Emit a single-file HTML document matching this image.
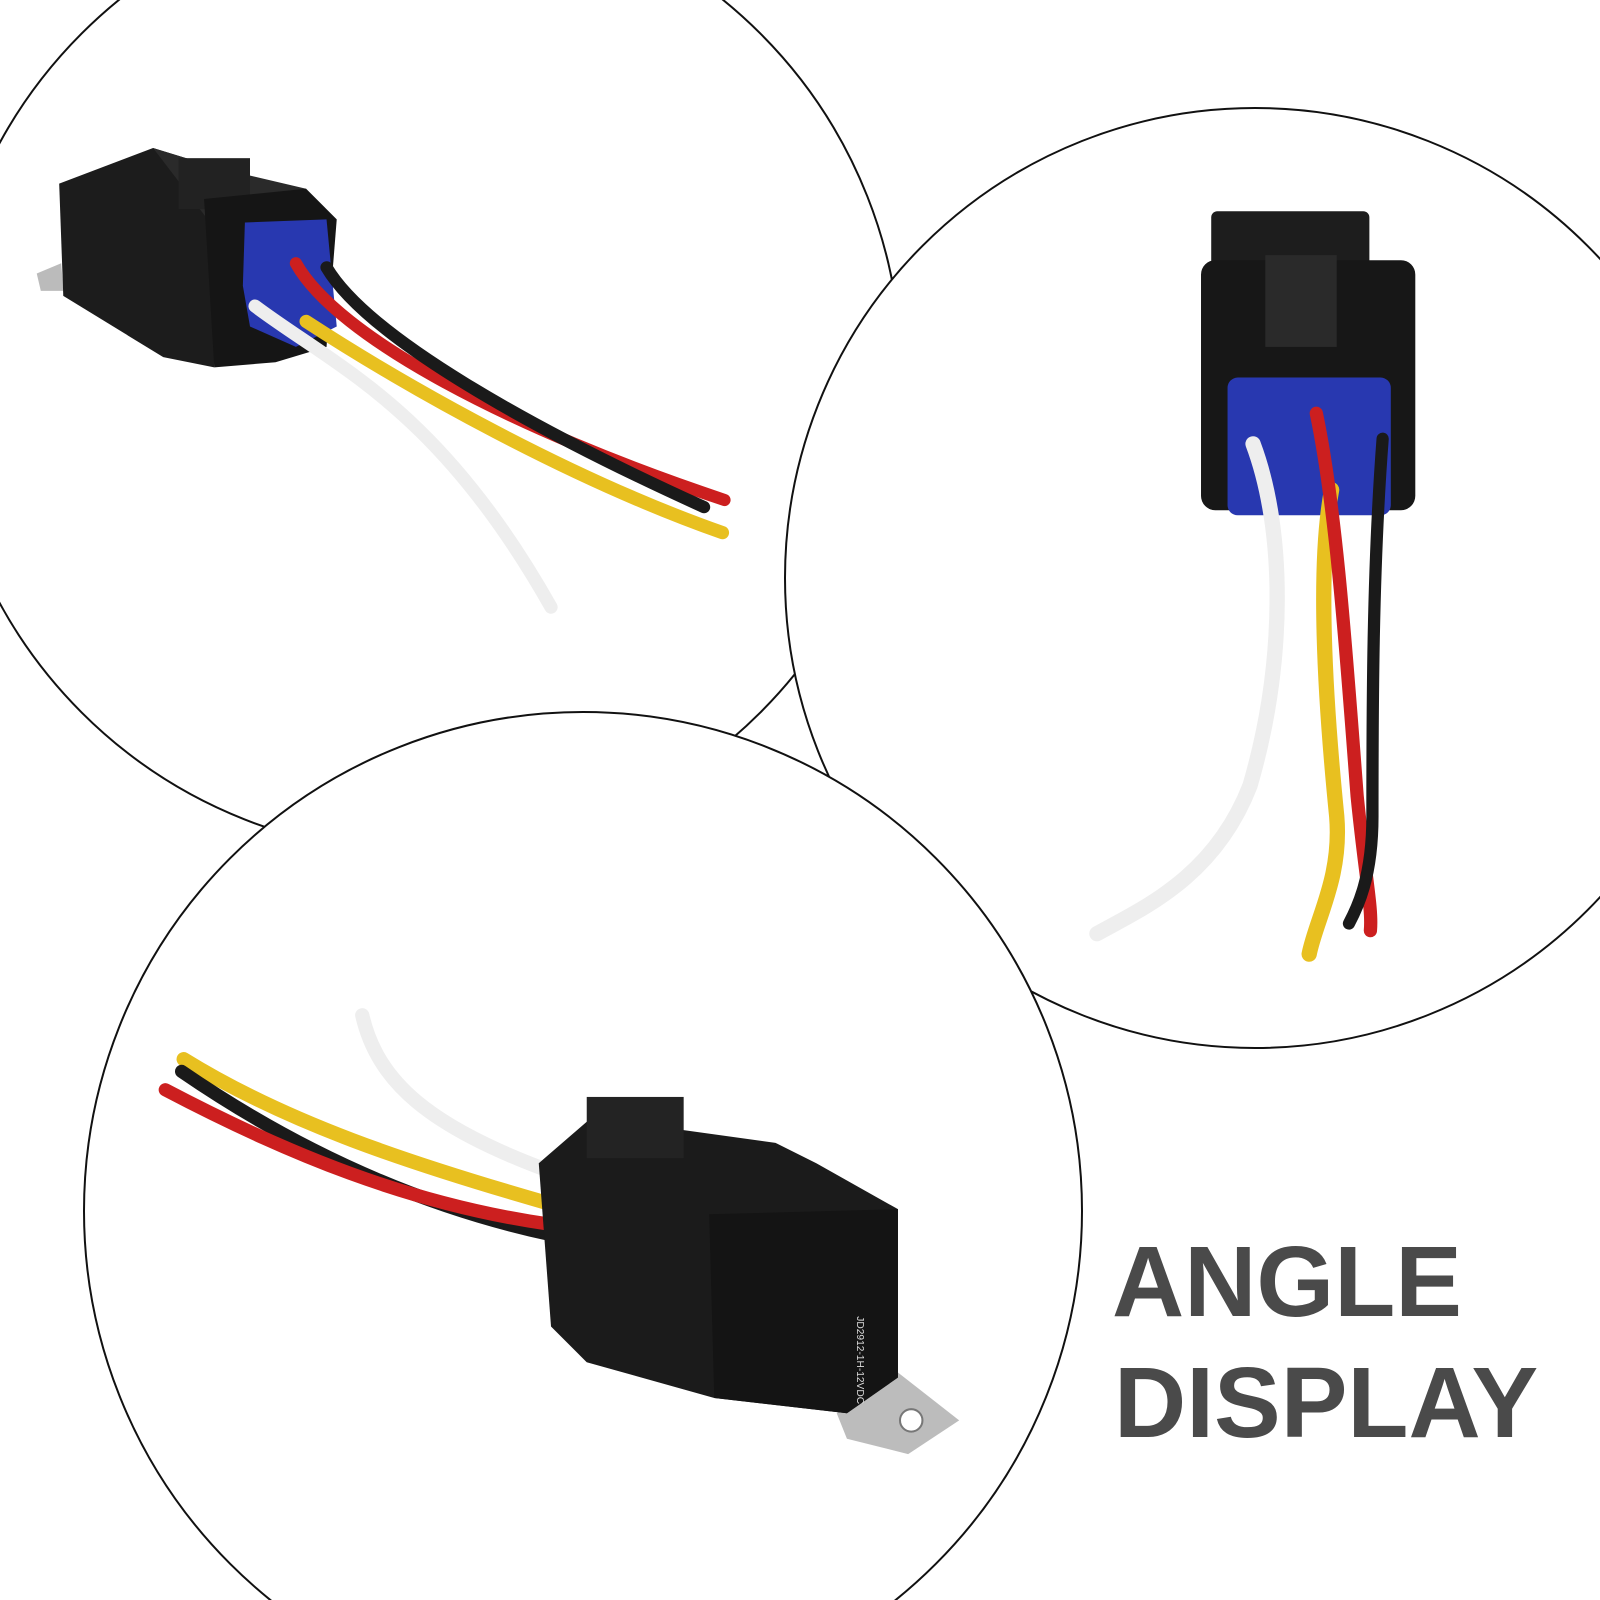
<!DOCTYPE html>
<html><head><meta charset="utf-8"><style>
html,body{margin:0;padding:0;background:#fff;overflow:hidden;}
svg{display:block}
</style></head><body>
<svg width="1600" height="1600" viewBox="0 0 1600 1600" xmlns="http://www.w3.org/2000/svg">
<rect width="1600" height="1600" fill="#fff"/>
<circle cx="421" cy="373" r="480" fill="#fff" stroke="#111" stroke-width="2"/>
<circle cx="1255" cy="578" r="470" fill="#fff" stroke="#111" stroke-width="2"/>
<circle cx="583" cy="1211" r="499" fill="#fff" stroke="#111" stroke-width="2"/>
<g transform="scale(1.0204)">
<!-- Top-left relay -->
<g>
<polygon points="36,268 60,258 62,285 40,285" fill="#bbb"/>
<polygon points="58,180 150,145 215,165 210,360 160,350 62,290" fill="#1c1c1c"/>
<polygon points="150,145 215,165 300,185 300,260 215,230" fill="#2a2a2a"/>
<rect x="175" y="155" width="70" height="50" fill="#222"/>
<polygon points="200,195 300,185 330,215 320,340 270,355 210,360" fill="#151515"/>
<polygon points="240,218 320,215 330,320 290,340 245,320 238,280" fill="#2838b0"/>
<path d="M250,300 C330,360 430,400 540,595" stroke="#eee" stroke-width="13" fill="none" stroke-linecap="round"/>
<path d="M300,315 C400,380 560,470 708,522" stroke="#e8c020" stroke-width="13" fill="none" stroke-linecap="round"/>
<path d="M290,258 C330,330 500,420 710,490" stroke="#cc1f1f" stroke-width="12" fill="none" stroke-linecap="round"/>
<path d="M320,262 C360,330 520,420 690,497" stroke="#1a1a1a" stroke-width="12" fill="none" stroke-linecap="round"/>
</g>
<!-- Right relay -->
<g>
<rect x="1187" y="207" width="155" height="80" rx="6" fill="#1d1d1d"/>
<rect x="1177" y="255" width="210" height="245" rx="14" fill="#171717"/>
<rect x="1240" y="250" width="70" height="90" fill="#2a2a2a"/>
<rect x="1203" y="370" width="160" height="135" rx="10" fill="#2838b0"/>
<path d="M1228,435 C1260,520 1260,650 1225,770 C1190,860 1120,890 1075,915" stroke="#eee" stroke-width="15" fill="none" stroke-linecap="round"/>
<path d="M1305,480 C1290,560 1300,700 1310,800 C1315,860 1290,900 1283,935" stroke="#e8c020" stroke-width="15" fill="none" stroke-linecap="round"/>
<path d="M1290,405 C1310,500 1320,650 1330,780 C1338,860 1345,890 1343,912" stroke="#cc1f1f" stroke-width="13" fill="none" stroke-linecap="round"/>
<path d="M1355,430 C1345,560 1345,700 1345,800 C1345,860 1330,890 1322,905" stroke="#1a1a1a" stroke-width="12" fill="none" stroke-linecap="round"/>
</g>
<!-- Bottom relay -->
<g>
<path d="M355,995 C370,1060 420,1105 545,1150" stroke="#eee" stroke-width="14" fill="none" stroke-linecap="round"/>
<path d="M180,1038 C280,1100 400,1140 540,1180" stroke="#e8c020" stroke-width="14" fill="none" stroke-linecap="round"/>
<path d="M178,1050 C280,1120 400,1180 540,1210" stroke="#1a1a1a" stroke-width="13" fill="none" stroke-linecap="round"/>
<path d="M162,1068 C280,1130 400,1180 540,1200" stroke="#cc1f1f" stroke-width="13" fill="none" stroke-linecap="round"/>
<polygon points="820,1385 880,1345 940,1392 890,1425 830,1410" fill="#bcbcbc"/>
<circle cx="893" cy="1392" r="11" fill="#fff" stroke="#777" stroke-width="2"/>
<polygon points="528,1140 580,1095 760,1120 800,1140 880,1185 880,1350 830,1385 700,1370 575,1335 540,1300" fill="#1b1b1b"/>
<rect x="575" y="1075" width="95" height="60" fill="#232323"/>
<polygon points="695,1190 880,1185 880,1350 830,1385 700,1370" fill="#141414"/>
<text x="840" y="1290" font-family="Liberation Sans, sans-serif" font-size="10" fill="#ddd" transform="rotate(90 840 1290)">JD2912-1H-12VDC</text>
</g>
</g>
<text x="1112" y="1316" font-family="Liberation Sans, sans-serif" font-weight="bold" font-size="100" fill="#4a4a4a">ANGLE</text>
<text x="1114" y="1437" font-family="Liberation Sans, sans-serif" font-weight="bold" font-size="100" fill="#4a4a4a">DISPLAY</text>
</svg>
</body></html>
